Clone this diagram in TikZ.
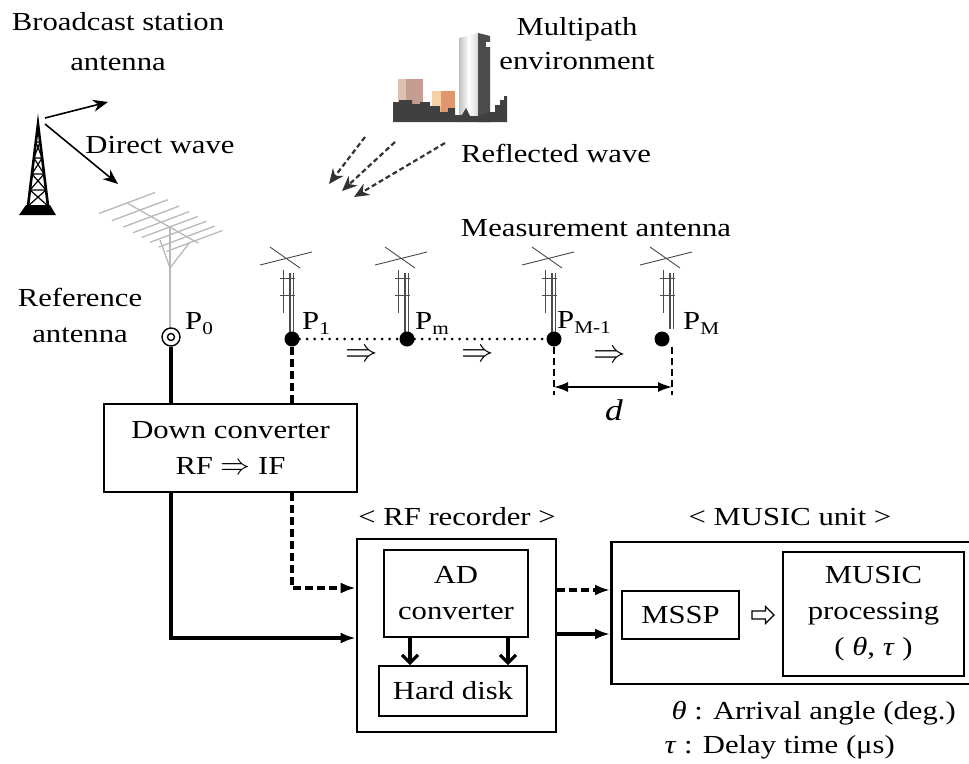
\documentclass[tikz,border=0pt]{standalone}
\usepackage{graphicx}
\usepackage{fontspec}
\setmainfont{Liberation Serif}[FakeStretch=1.18]
\usetikzlibrary{arrows.meta,shapes.arrows}

\newcommand\psub[1]{\raisebox{-0.45ex}{\fontsize{18}{18}\selectfont #1}}
\newcommand\impl[1][1.2]{\scalebox{#1}{$\Rightarrow$}}

\begin{document}
\begin{tikzpicture}[x=1pt,y=-1pt,
	font=\fontsize{26}{36}\selectfont,
	box/.style={draw,line width=2.6pt,align=center,inner sep=0pt},
	inbox/.style={draw,line width=1.6pt,align=center,inner sep=0pt},
	sig/.style={line width=3.2pt,-{Latex[length=15pt,width=11pt]}},
	sigdash/.style={sig,dash pattern=on 8pt off 4pt},
	feed/.style={line width=3.2pt},
	feeddash/.style={feed,dash pattern=on 8pt off 4pt},
	wave/.style={line width=1.6pt,-{Stealth[length=15pt,width=12pt]}},
	refl/.style={line width=2.2pt,gray!40!black,dash pattern=on 5pt off 3pt,-{Stealth[length=15pt,width=13pt]}},
	ant/.style={gray!60!black,line width=0.9pt},
	yagi/.style={gray!55,line width=1.3pt},
	dot/.style={circle,fill,inner sep=0pt,minimum size=15pt},
	plabel/.style={anchor=base west,inner sep=0pt},
	shiftsym/.style={inner sep=0pt}
]
	\useasboundingbox (0,0) rectangle (969,763);
	\clip (0,0) rectangle (969,763);
	\fill[white] (0,0) rectangle (969,763);

	% broadcast tower
	\fill (19,215) -- (26,205) -- (50,205) -- (56,215) -- cycle;
	\draw[line width=2.6pt] (28,206) -- (38,124) -- (48,206);
	\foreach \y in {142,158,174,190} {
		\pgfmathsetmacro\w{(\y-125)*0.1235}
		\pgfmathsetmacro\v{(\y-109)*0.1235}
		\draw[line width=1.2pt] (38-\w,\y) -- (38+\v,\y+16) (38+\w,\y) -- (38-\v,\y+16) (38-\w,\y) -- (38+\w,\y);
	}
	\coordinate (tx) at (45,120);
	\draw[wave] (tx) ++(0,-2) -- (108,102);
	\draw[wave] (tx) ++(0,4) -- (118,184);

	% city skyline
	\fill[fill={rgb,255:red,196;green,156;blue,144}] (398,79) rectangle (423,110);
	\fill[fill={rgb,255:red,222;green,192;blue,180}] (398,79) rectangle (406,110);
	\fill[fill={rgb,255:red,225;green,150;blue,110}] (432,91) rectangle (455,112);
	\fill[fill={rgb,255:red,244;green,210;blue,165}] (432,91) rectangle (441,112);
	\shade[left color=gray!50,right color=gray!30,middle color=white] (459,38) -- (478,33) -- (478,122) -- (459,122) -- cycle;
	\fill[gray!60!black] (478,33) -- (490,36) -- (490,122) -- (478,122) -- cycle;
	\fill[white] (486,42) rectangle (491,47);
	\fill[gray!50!black] (393,122) -- (393,102) -- (399,102) -- (399,100) -- (412,100) -- (412,104)
		-- (420,104) -- (420,102) -- (430,102) -- (430,106) -- (440,106) -- (440,112) -- (448,112)
		-- (448,108) -- (455,108) -- (455,115) -- (462,115) -- (466,108) -- (470,116) -- (478,116)
		-- (490,112) -- (495,112) -- (495,105) -- (500,105) -- (500,100) -- (504,100) -- (504,96)
		-- (507,96) -- (507,122) -- cycle;
	\draw[refl] (365,137) -- (329,184);
	\draw[refl] (395,142) -- (342,191);
	\draw[refl] (445,143) -- (354,197);

	% reference yagi
	\draw[yagi] (127,203) -- (198,243);
	\foreach \t in {0,0.18,0.34,0.48,0.6,0.72,0.84,0.95}
		\draw[yagi] (127+71*\t-28,203+40*\t+10.5) -- ++(56,-21);
	\draw[yagi] (170,228) -- (170,330);
	\draw[yagi] (160,240) -- (170,268) -- (190,242);
	\node[circle,draw,fill=white,line width=1.4pt,minimum size=18pt,inner sep=0pt] (p0) at (171,337) {};
	\draw[line width=1.4pt] (p0.center) circle (3.5pt);

	% measurement antennas
	\foreach \x/\m in {292/0,407/0,554/0,662/10} {
		\begin{scope}[ant,shift={(\x+\m,0)}]
			\draw (-32,265) -- (20,252) (-22,247) -- (8,268);
			\draw[line width=1.3pt] (-2,273) -- (-2,339-\m) (1.5,273) -- (1.5,339-\m);
			\draw (-9,270) -- (-9,313) (-12,278) -- (3,278) (-12,295) -- (3,295);
		\end{scope}
	}
	\node[dot] (p1) at (292,339) {};
	\node[dot] (pm) at (407,339) {};
	\node[dot] (pmm) at (554,339) {};
	\node[dot] (pM) at (662,339) {};
	\draw[line width=3pt,line cap=round,dash pattern=on 0pt off 7.5pt] (p1) -- (pm) -- (pmm);
	\node[shiftsym] (sh1) at (362,356) {\impl[1.3]};
	\node[shiftsym] (sh2) at (478,356) {\impl[1.3]};
	\node[shiftsym] (sh3) at (610,357) {\impl[1.3]};

	% spacing d
	\draw[line width=2.4pt,dash pattern=on 7pt off 4pt] (pmm) -- ++(0,56) coordinate (dl);
	\draw[line width=2.4pt,dash pattern=on 7pt off 4pt] ([xshift=10pt,yshift=-8pt]pM.center) -- ++(0,48) coordinate (dr);
	\draw[line width=1.6pt,{Latex[length=14pt,width=10pt]}-{Latex[length=14pt,width=10pt]}] ([yshift=8pt]dl) -- ([yshift=8pt]dr);
	\node[font=\fontsize{30}{30}\selectfont] (dlabel) at (614,410) {\textit{d}};

	% labels
	\node[align=center,font=\fontsize{26}{40}\selectfont] (bcast) at (118,42) {Broadcast station\\antenna};
	\node (direct) at (160,145) {Direct wave};
	\node[align=center,font=\fontsize{26}{34}\selectfont] (multipath) at (577,44) {Multipath\\environment};
	\node (reflected) at (556,153) {Reflected wave};
	\node (meas) at (596,228) {Measurement antenna};
	\node[align=center] (refant) at (80,315) {Reference\\antenna};
	\node[plabel] (lp0) at (185,329) {P\psub{0}};
	\node[plabel] (lp1) at (302,329) {P\psub{1}};
	\node[plabel] (lpm) at (415,329) {P\psub{m}};
	\node[plabel] (lpmm) at (557,328) {P\psub{M-1}};
	\node[plabel] (lpM) at (683,329) {P\psub{M}};

	% processing chain
	\node[box,minimum width=253pt,minimum height=88pt] (conv) at (230.5,448) {Down converter\\RF \impl{} IF};
	\node[box,minimum width=199pt,minimum height=193pt] (recorder) at (456.5,635.5) {};
	\node (reclabel) at (457,517) {< RF recorder >};
	\node[inbox,minimum width=144pt,minimum height=87pt] (adconv) at (456,593.5) {AD\\converter};
	\node[inbox,minimum width=148pt,minimum height=50pt] (hdd) at (453,691) {Hard disk};
	\node[box,anchor=west,minimum width=366pt,minimum height=142pt] (musicunit) at (610,613) {};
	\node (musiclabel) at (790,517) {< MUSIC unit >};
	\node[inbox,minimum width=117pt,minimum height=48pt] (mssp) at (680.5,615) {MSSP};
	\node[inbox,minimum width=181pt,minimum height=124pt] (musicproc) at (873.5,614) {MUSIC\\processing\\( \textit{θ}, \textit{τ} )};
	\node[single arrow,draw,line width=1.2pt,inner sep=2.5pt,minimum width=17pt,minimum height=22pt,single arrow head extend=3.5pt] (hollow) at (761,615) {};

	\draw[feed] (p0) -- (p0 |- conv.north);
	\draw[feeddash] (p1) -- (p1 |- conv.north);
	\draw[sig] (conv.south -| p0) |- ([yshift=-2.5pt]recorder.west);
	\draw[sigdash] (conv.south -| p1) |- ([yshift=47.5pt]recorder.west);
	\draw[line width=3.2pt,-{Straight Barb[length=8pt,width=16pt]}] ([xshift=-46pt]adconv.south) -- ([xshift=-46pt]adconv.south |- hdd.north);
	\draw[line width=3.2pt,-{Straight Barb[length=8pt,width=16pt]}] ([xshift=52pt]adconv.south) -- ([xshift=52pt]adconv.south |- hdd.north);
	\draw[sigdash] ([yshift=45.5pt]recorder.east) coordinate (q1) -- (q1 -| musicunit.west);
	\draw[sig] ([yshift=1.5pt]recorder.east) coordinate (q2) -- (q2 -| musicunit.west);

	\node[anchor=west] (thetakey) at (668,713) {\textit{θ} : Arrival angle (deg.)};
	\node[anchor=west] (taukey) at (661,747) {\textit{τ} : Delay time (μs)};
\end{tikzpicture}
\end{document}
